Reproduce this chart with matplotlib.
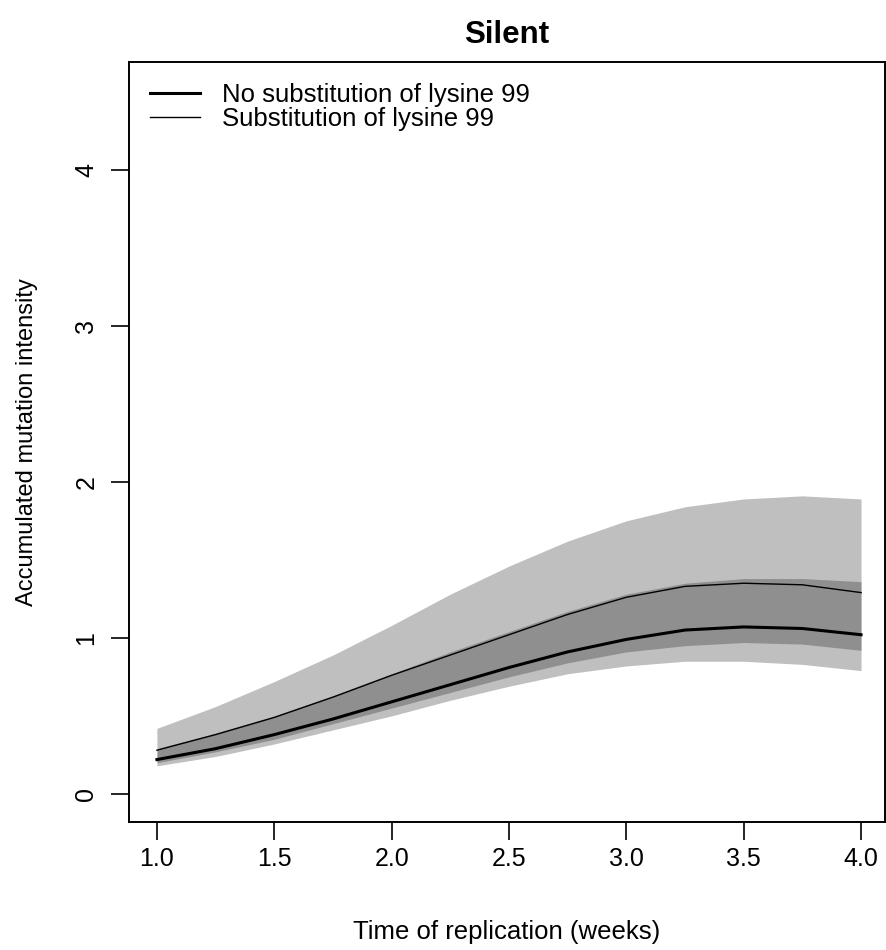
import matplotlib
matplotlib.use("Agg")
import matplotlib.pyplot as plt

plt.rcParams['font.family'] = ['Liberation Sans', 'DejaVu Sans']

# values (weeks, intensity)
weeks = [1.0, 1.25, 1.5, 1.75, 2.0, 2.25, 2.5, 2.75, 3.0, 3.25, 3.5, 3.75, 4.0]

no_sub = [0.22, 0.29, 0.38, 0.48, 0.59, 0.70, 0.81, 0.91, 0.99, 1.05, 1.07, 1.06, 1.02]
no_sub_lo = [0.18, 0.24, 0.32, 0.41, 0.50, 0.60, 0.69, 0.77, 0.82, 0.85, 0.85, 0.83, 0.79]
no_sub_hi = [0.29, 0.39, 0.50, 0.63, 0.77, 0.91, 1.04, 1.17, 1.28, 1.35, 1.38, 1.38, 1.36]

sub = [0.28, 0.38, 0.49, 0.62, 0.76, 0.89, 1.02, 1.15, 1.26, 1.33, 1.35, 1.34, 1.29]
sub_lo = [0.20, 0.27, 0.35, 0.45, 0.55, 0.65, 0.75, 0.84, 0.91, 0.95, 0.97, 0.96, 0.92]
sub_hi = [0.42, 0.56, 0.72, 0.89, 1.08, 1.28, 1.46, 1.62, 1.75, 1.84, 1.89, 1.91, 1.89]

xticks = [1.0, 1.5, 2.0, 2.5, 3.0, 3.5, 4.0]
xtick_labels = ['1.0', '1.5', '2.0', '2.5', '3.0', '3.5', '4.0']
yticks = [0, 1, 2, 3, 4]

fig = plt.figure(figsize=(8.87, 9.5), dpi=100)
ax = fig.add_axes([129 / 887, 128 / 950, 756 / 887, 760 / 950])

# confidence bands, overlap gets darker
ax.fill_between(weeks, sub_lo, sub_hi, color='black', alpha=0.25, linewidth=0)
ax.fill_between(weeks, no_sub_lo, no_sub_hi, color='black', alpha=0.25, linewidth=0)

ax.plot(weeks, no_sub, color='black', linewidth=2.2, label='No substitution of lysine 99')
ax.plot(weeks, sub, color='black', linewidth=1.0, label='Substitution of lysine 99')

ax.set_xlim(0.881, 4.102)
ax.set_ylim(-0.18, 4.69)
ax.set_xticks(xticks)
ax.set_xticklabels(xtick_labels)
ax.set_yticks(yticks)
ax.tick_params(axis='both', length=13, width=1.2, labelsize=18, direction='out')
ax.tick_params(axis='x', pad=5)
ax.tick_params(axis='y', pad=9)
for lab in ax.get_yticklabels():
    lab.set_rotation(90)
    lab.set_va('center')

for s in ax.spines.values():
    s.set_linewidth(1.4)

ax.set_title('Silent', fontsize=22.5, fontweight='bold', pad=14)
ax.set_xlabel('Time of replication (weeks)', fontsize=18.5, labelpad=35)
ax.set_ylabel('Accumulated mutation intensity', fontsize=17, labelpad=26)

ax.legend(loc='upper left', bbox_to_anchor=(0.028, 0.972), frameon=False,
          fontsize=18.5, handlelength=1.95, handletextpad=0.85, labelspacing=0.0,
          borderpad=0, borderaxespad=0)

fig.savefig('out.png', dpi=100)
